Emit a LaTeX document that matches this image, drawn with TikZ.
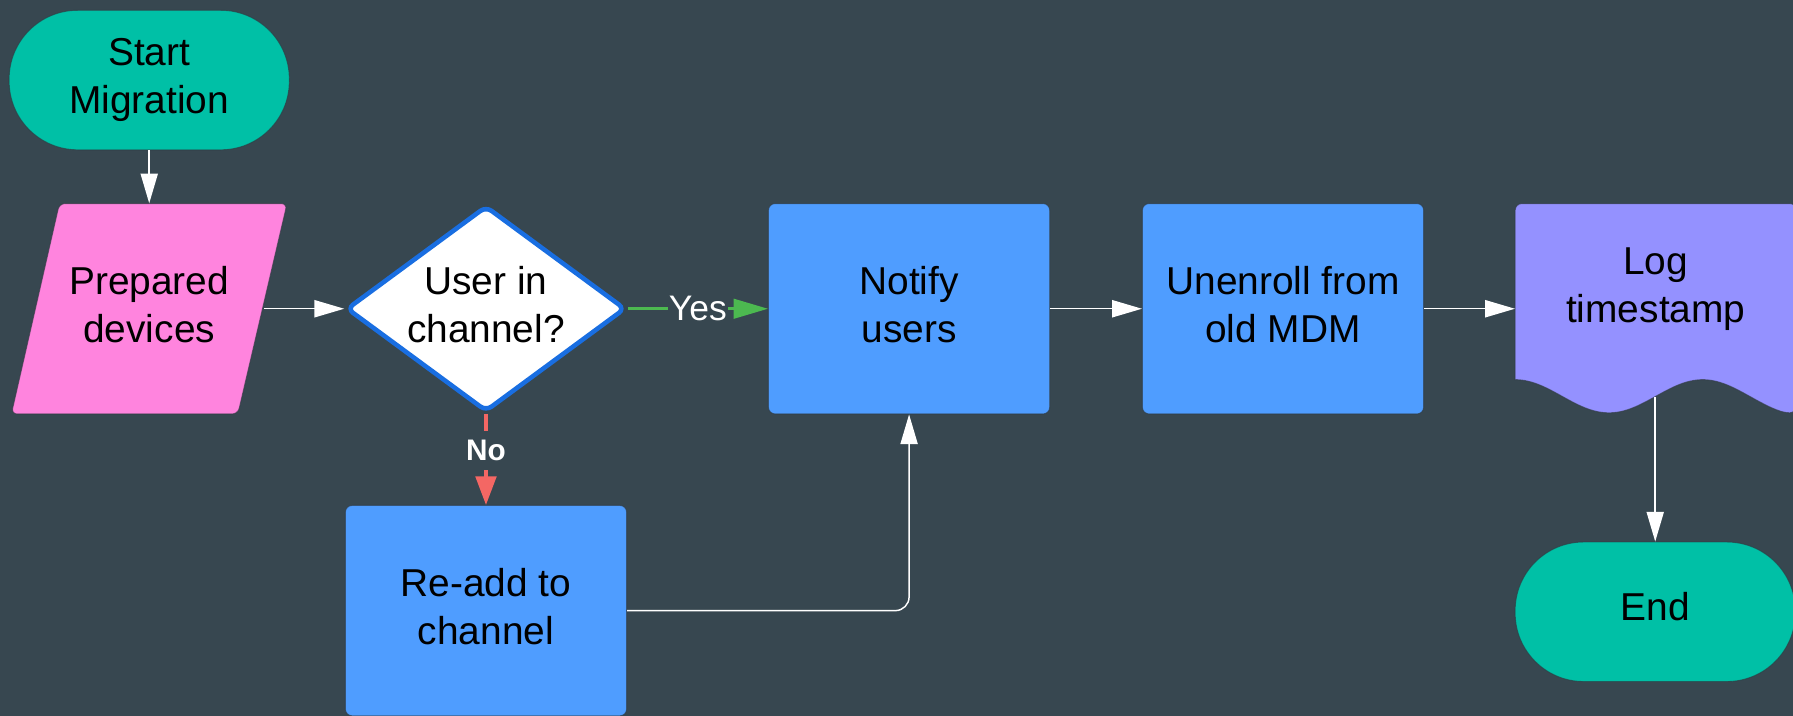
\documentclass[tikz,border=0pt]{standalone}
\usepackage{fontspec}
\setmainfont{Liberation Sans}
\usetikzlibrary{arrows.meta,shapes.geometric}

\definecolor{bgslate}{RGB}{55,71,80}
\definecolor{termteal}{RGB}{0,192,166}
\definecolor{iopink}{RGB}{255,132,222}
\definecolor{procblue}{RGB}{79,157,255}
\definecolor{docpurple}{RGB}{148,145,255}
\definecolor{decborder}{RGB}{25,110,225}
\definecolor{yesgreen}{RGB}{76,185,80}
\definecolor{nored}{RGB}{244,103,100}
\definecolor{edgeshade}{RGB}{45,55,62}

\begin{document}
\begin{tikzpicture}[x=1pt,y=-1pt,
  every node/.style={font=\fontsize{34}{42}\selectfont, align=center, text=black},
  rim/.style={draw=edgeshade, draw opacity=0.6, line width=0.8pt},
  terminal/.style={rectangle, rounded corners=60pt, fill=termteal, rim,
    minimum width=245pt, minimum height=122pt, inner sep=0pt},
  process/.style={rectangle, rounded corners=6pt, fill=procblue, rim,
    minimum width=246pt, minimum height=184pt, inner sep=0pt, text depth=7pt},
  decision/.style={diamond, draw=decborder, line width=4pt, fill=white,
    rounded corners=6pt, minimum width=244pt, minimum height=180pt, inner sep=0pt},
  anchorbox/.style={rectangle, minimum width=246pt, minimum height=184pt, inner sep=0pt},
  conn/.style={draw=white, line width=1.3pt, -{Triangle[length=26pt,width=15pt]}},
  yesline/.style={draw=yesgreen, line width=2.5pt,
    -{Triangle[length=30pt,width=17pt,fill=yesgreen]}},
  noline/.style={draw=nored, line width=3pt,
    -{Triangle[length=25pt,width=18pt,fill=nored]}},
  yeslabel/.style={fill=bgslate, text=white, inner xsep=1pt, inner ysep=2pt,
    font=\fontsize{31}{36}\selectfont},
  nolabel/.style={fill=bgslate, text=white, inner xsep=2pt, inner ysep=8pt,
    font=\bfseries\fontsize{26}{30}\selectfont},
]
  % canvas
  \fill[bgslate] (0,0) rectangle (1568,626);
  \useasboundingbox (0,0) rectangle (1568,626);

  % input/output parallelogram and document shape
  \filldraw[fill=iopink, rim, rounded corners=5pt]
    (10,362) -- (52,178) -- (251,178) -- (208,362) -- cycle;
  \filldraw[fill=docpurple, rim, rounded corners=6pt]
    (1325,332) -- (1325,178) -- (1571,178) -- (1571,361)
    [sharp corners] cos (1530,346.5) sin (1489,332) cos (1448,346.5)
    sin (1407,361) cos (1366,346.5) sin (1325,332) -- cycle;

  % nodes
  \node[terminal] (start) at (130.5,70) {Start\\Migration};
  \node[anchorbox, minimum width=200pt, text depth=7pt] (prep) at (130.5,270) {Prepared\\devices};
  \node[decision] (dec) at (425,270) {};
  \node[text depth=8pt] (dectext) at (dec) {User in\\channel?};
  \node[process] (notify) at (795,270) {Notify\\users};
  \node[process] (unenroll) at (1122,270) {Unenroll from\\old MDM};
  \node[anchorbox] (log) at (1448,270) {};
  \node (logtext) at (1448,253) {Log\\timestamp};
  \coordinate (logfoot) at (1447.5,347);
  \node[terminal, text depth=9pt] (end) at (1447.5,535) {End};
  \node[process] (readd) at (425,534) {Re-add to\\channel};

  % connectors
  \draw[conn] (start) -- (prep);
  \draw[conn] (prep) -- (dec);
  \draw[yesline] (dec) -- node[yeslabel] {Yes} (notify);
  \draw[noline] (dec) -- node[nolabel, pos=0.4] {No} (readd);
  \draw[conn] (notify) -- (unenroll);
  \draw[conn] (unenroll) -- (log);
  \draw[conn] (logfoot) -- (end);
  \draw[conn, rounded corners=12pt] (readd.east) -| (notify.south);
\end{tikzpicture}
\end{document}
